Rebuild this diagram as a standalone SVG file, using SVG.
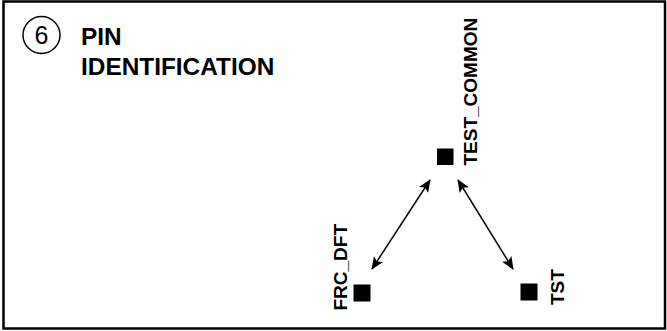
<svg xmlns="http://www.w3.org/2000/svg" width="667" height="331" viewBox="0 0 667 331">
<style>
.t{font-family:"Liberation Sans",Arial,sans-serif;font-weight:bold;fill:#000}
.lbl{font-family:"Liberation Sans",Arial,sans-serif;font-weight:bold;font-size:19px;fill:#000}
.pin{fill:#000}
.conn{stroke:#000;stroke-width:1.5;fill:none}
</style>
<defs>
<marker id="ah" markerWidth="13" markerHeight="11" refX="12" refY="5.5" orient="auto-start-reverse" markerUnits="userSpaceOnUse">
<path d="M0,0 L13,5.5 L0,11 L3,5.5 Z" fill="#000"/>
</marker>
</defs>
<rect x="3.5" y="1.5" width="661.5" height="327" fill="#fff" stroke="#000" stroke-width="2.5"/>
<g id="title">
<circle cx="41.5" cy="35" r="18.5" fill="none" stroke="#000" stroke-width="1.5"/>
<text x="41.5" y="44" font-family="Liberation Sans,Arial,sans-serif" font-size="25" text-anchor="middle">6</text>
<text class="t" x="81" y="44.5" font-size="24.4">PIN</text>
<text class="t" x="81" y="75" font-size="24.4">IDENTIFICATION</text>
</g>
<g id="test_common">
<rect class="pin" x="437" y="148.5" width="16.5" height="16.5"/>
<text class="lbl" transform="translate(477,165.5) rotate(-90)">TEST_COMMON</text>
</g>
<g id="frc_dft">
<rect class="pin" x="353.5" y="284.5" width="17" height="17"/>
<text class="lbl" transform="translate(346.5,310.5) rotate(-90)">FRC_DFT</text>
</g>
<g id="tst">
<rect class="pin" x="520.5" y="283.5" width="17" height="17"/>
<text class="lbl" transform="translate(564,305) rotate(-90)">TST</text>
</g>
<g id="connectors">
<line class="conn" x1="372" y1="269" x2="430" y2="180" marker-start="url(#ah)" marker-end="url(#ah)"/>
<line class="conn" x1="458" y1="180" x2="513" y2="269" marker-start="url(#ah)" marker-end="url(#ah)"/>
</g>
</svg>
